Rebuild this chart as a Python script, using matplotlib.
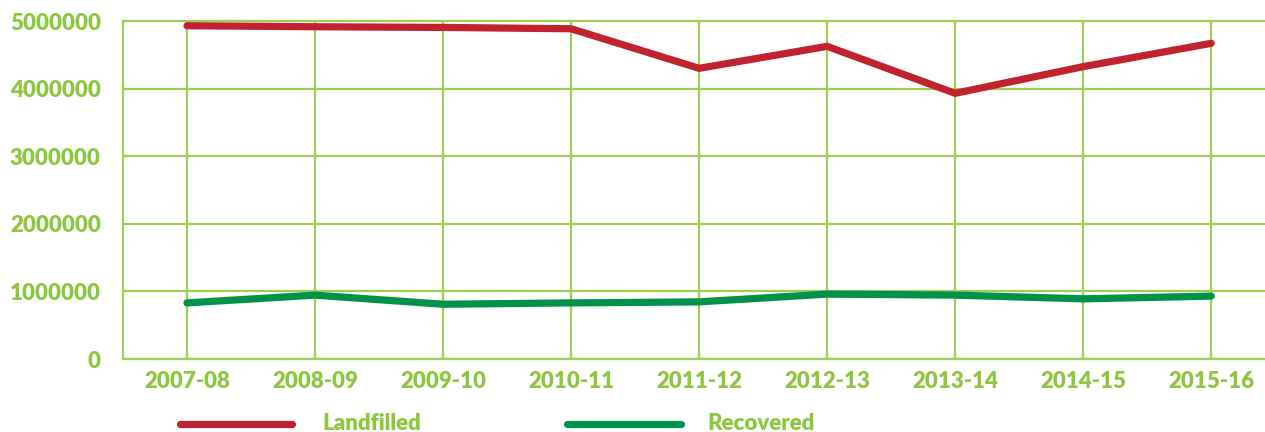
#!/usr/bin/env python3
"""Landfilled vs recovered tonnage, 2007-08 to 2015-16."""

import matplotlib
matplotlib.use('Agg')
import matplotlib.pyplot as plt
from matplotlib.lines import Line2D

plt.rcParams['font.family'] = ['Lato', 'DejaVu Sans']

years = ['2007-08', '2008-09', '2009-10', '2010-11', '2011-12',
         '2012-13', '2013-14', '2014-15', '2015-16']
landfilled = [4930000, 4915000, 4905000, 4885000, 4300000,
              4625000, 3930000, 4325000, 4670000]
recovered = [830000, 945000, 810000, 830000, 845000,
             960000, 945000, 890000, 930000]
y_ticks = [0, 1000000, 2000000, 3000000, 4000000, 5000000]

RED = '#c0222f'
GREEN = '#00924a'
LIME = '#8dc63f'
GRID = '#9ccf52'
WEIGHT = 'heavy'
FS = 16

fig = plt.figure(figsize=(12.65, 4.32), dpi=100)
ax = fig.add_axes([123 / 1265, 1 - 359 / 432, 1 - 123 / 1265, (359 - 21) / 432])

x = list(range(len(years)))
ax.plot(x, landfilled, color=RED, lw=5.2, solid_capstyle='round',
        solid_joinstyle='miter', zorder=3, clip_on=False)
ax.plot(x, recovered, color=GREEN, lw=5.2, solid_capstyle='round',
        solid_joinstyle='miter', zorder=3, clip_on=False)

ax.set_xlim(-0.5, 8.42)
ax.set_ylim(0, 5000000)
ax.set_xticks(x)
ax.set_xticklabels(years)
ax.set_yticks(y_ticks)
ax.set_yticklabels([str(v) for v in y_ticks])

ax.grid(True, color=GRID, lw=1.6, zorder=1)
ax.set_axisbelow(True)
for side in ['top', 'right']:
    ax.spines[side].set_visible(False)
for side in ['left', 'bottom']:
    ax.spines[side].set_color(GRID)
    ax.spines[side].set_linewidth(1.6)
# top gridline at 5,000,000 must not be clipped
for gl in ax.get_ygridlines():
    gl.set_clip_on(False)

ax.tick_params(axis='both', length=0, colors=LIME, labelsize=FS)
ax.tick_params(axis='y', pad=16)
ax.tick_params(axis='x', pad=9)
for lab in ax.get_xticklabels() + ax.get_yticklabels():
    lab.set_fontweight(WEIGHT)

# legend drawn by hand under the axes
ly = 1 - 424 / 432
fig.add_artist(Line2D([180 / 1265, 292 / 1265], [ly, ly], color=RED, lw=5.2,
                      solid_capstyle='round'))
fig.text(322 / 1265, ly, 'Landfilled', color=LIME, fontsize=FS,
         fontweight=WEIGHT, va='center', ha='left')
fig.add_artist(Line2D([567 / 1265, 681 / 1265], [ly, ly], color=GREEN, lw=5.2,
                      solid_capstyle='round'))
fig.text(707 / 1265, ly, 'Recovered', color=LIME, fontsize=FS,
         fontweight=WEIGHT, va='center', ha='left')

fig.savefig('out.png', dpi=100)
